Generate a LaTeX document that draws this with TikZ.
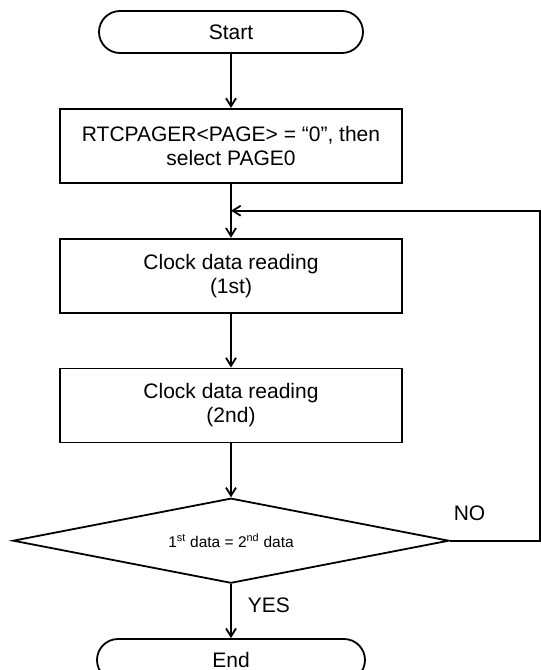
\documentclass[tikz,border=0pt]{standalone}
\usepackage{fontspec}
\setmainfont{Liberation Sans}
\usetikzlibrary{positioning,calc,shapes.geometric,arrows.meta}

\begin{document}
\begin{tikzpicture}[x=1pt, y=1pt, node distance=54pt, line width=1.8pt,
  every node/.style={font=\fontsize{21}{24}\selectfont},
  term/.style={draw, rounded corners=21pt, minimum width=264pt, minimum height=42pt},
  proc/.style={draw, align=center, minimum width=342pt, minimum height=74pt},
  test/.style={draw, diamond, aspect=5, minimum width=436pt, minimum height=85pt,
    inner sep=0pt, font=\fontsize{15.5}{18}\selectfont},
  lbl/.style={inner sep=0pt},
  flow/.style={-{Straight Barb[length=8pt,width=10pt]}}]
  \useasboundingbox (0,0) rectangle (541,-670);
  \node[term] (start) at (231,-32) {Start};
  \node[proc] (page) [below=of start] {RTCPAGER<PAGE> = “0”, then\\select PAGE0};
  \node[proc] (read1) [below=of page] {Clock data reading\\(1st)};
  \node[proc] (read2) [below=of read1] {Clock data reading\\(2nd)};
  \node[test] (same) [below=of read2] {1\textsuperscript{st} data = 2\textsuperscript{nd} data};
  \node[term, minimum width=268pt] (end) [below=of same] {End};
  \coordinate (join) at ($(page.south)!0.5!(read1.north)$);
  \coordinate (rim) at (540,0);
  \node[lbl, above right=19pt and 3pt of same.east] {NO};
  \path[flow]
    (start) edge (page)
    (page) edge (read1)
    (read1) edge (read2)
    (read2) edge (same)
    (same) edge node[lbl, right=16pt, pos=0.4] {YES} (end);
  \draw[flow] (same.east) -- (same.east -| rim) |- (join);
\end{tikzpicture}
\end{document}
